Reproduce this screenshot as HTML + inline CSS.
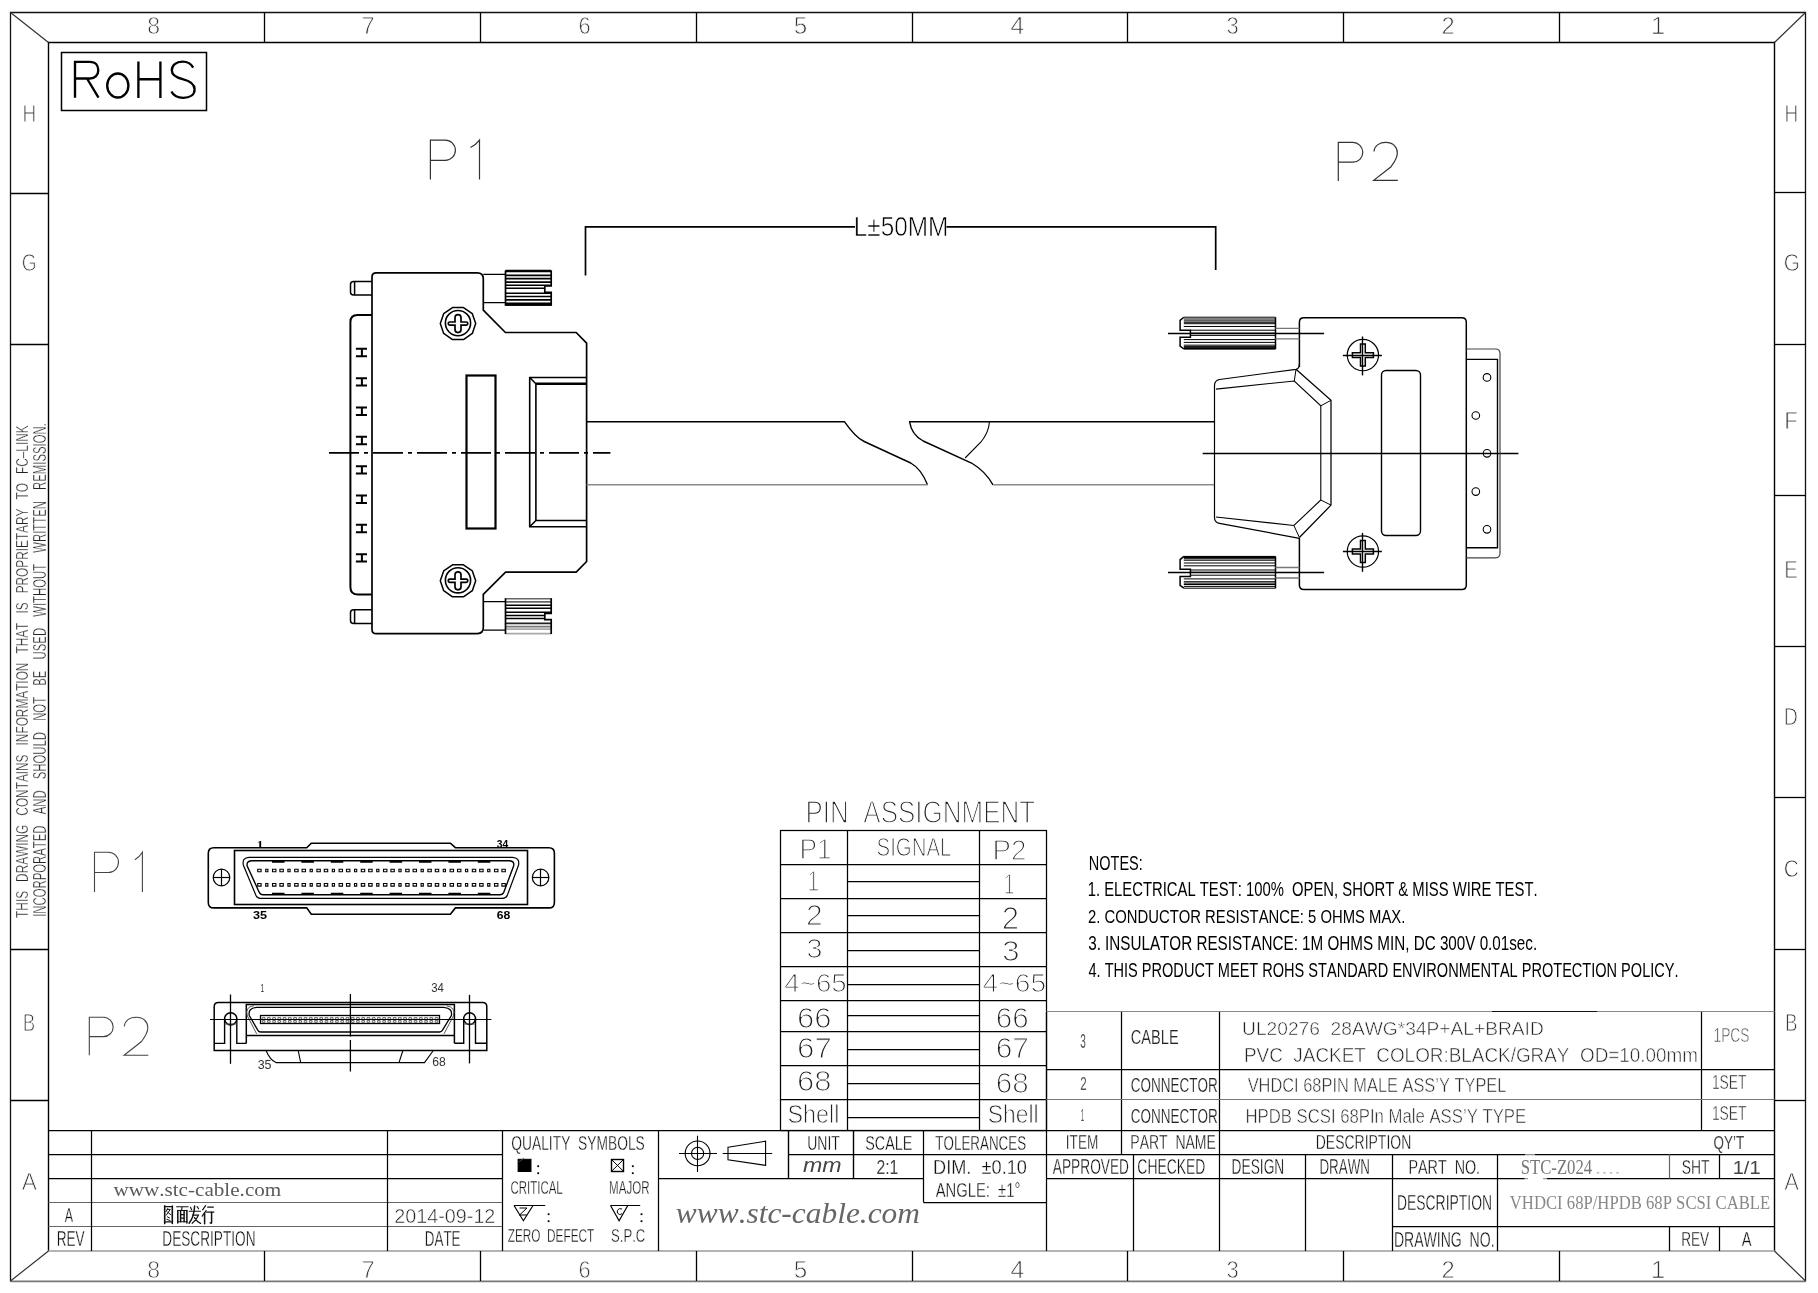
<!DOCTYPE html>
<html><head><meta charset="utf-8"><title>VHDCI 68P/HPDB 68P SCSI CABLE</title>
<style>html,body{margin:0;padding:0;background:#fff;width:1818px;height:1293px;overflow:hidden}svg{display:block;will-change:transform}text{font-kerning:none}</style>
</head><body>
<svg width="1818" height="1293" viewBox="0 0 1818 1293" stroke-linecap="butt">
<rect x="0" y="0" width="1818" height="1293" fill="#fff"/>
<text transform="translate(147.32,33.77) scale(0.9383,1)" font-family="Liberation Sans" font-size="24.57" fill="#333" stroke="#fff" stroke-width="0.75" vector-effect="non-scaling-stroke" xml:space="preserve">8</text>
<text transform="translate(147.32,1277.58) scale(0.9383,1)" font-family="Liberation Sans" font-size="24.57" fill="#333" stroke="#fff" stroke-width="0.75" vector-effect="non-scaling-stroke" xml:space="preserve">8</text>
<text transform="translate(361.51,33.77) scale(0.9773,1)" font-family="Liberation Sans" font-size="24.57" fill="#333" stroke="#fff" stroke-width="0.75" vector-effect="non-scaling-stroke" xml:space="preserve">7</text>
<text transform="translate(361.51,1277.58) scale(0.9773,1)" font-family="Liberation Sans" font-size="24.57" fill="#333" stroke="#fff" stroke-width="0.75" vector-effect="non-scaling-stroke" xml:space="preserve">7</text>
<text transform="translate(578.41,33.77) scale(0.8901,1)" font-family="Liberation Sans" font-size="24.57" fill="#333" stroke="#fff" stroke-width="0.75" vector-effect="non-scaling-stroke" xml:space="preserve">6</text>
<text transform="translate(578.41,1277.58) scale(0.8901,1)" font-family="Liberation Sans" font-size="24.57" fill="#333" stroke="#fff" stroke-width="0.75" vector-effect="non-scaling-stroke" xml:space="preserve">6</text>
<text transform="translate(793.68,33.77) scale(0.9886,1)" font-family="Liberation Sans" font-size="24.57" fill="#333" stroke="#fff" stroke-width="0.75" vector-effect="non-scaling-stroke" xml:space="preserve">5</text>
<text transform="translate(793.68,1277.58) scale(0.9886,1)" font-family="Liberation Sans" font-size="24.57" fill="#333" stroke="#fff" stroke-width="0.75" vector-effect="non-scaling-stroke" xml:space="preserve">5</text>
<text transform="translate(1010.58,33.77) scale(1.0048,1)" font-family="Liberation Sans" font-size="24.57" fill="#333" stroke="#fff" stroke-width="0.75" vector-effect="non-scaling-stroke" xml:space="preserve">4</text>
<text transform="translate(1010.58,1277.58) scale(1.0048,1)" font-family="Liberation Sans" font-size="24.57" fill="#333" stroke="#fff" stroke-width="0.75" vector-effect="non-scaling-stroke" xml:space="preserve">4</text>
<text transform="translate(1226.55,33.77) scale(0.8987,1)" font-family="Liberation Sans" font-size="24.57" fill="#333" stroke="#fff" stroke-width="0.75" vector-effect="non-scaling-stroke" xml:space="preserve">3</text>
<text transform="translate(1226.55,1277.58) scale(0.8987,1)" font-family="Liberation Sans" font-size="24.57" fill="#333" stroke="#fff" stroke-width="0.75" vector-effect="non-scaling-stroke" xml:space="preserve">3</text>
<text transform="translate(1441.4,33.77) scale(0.9675,1)" font-family="Liberation Sans" font-size="24.57" fill="#333" stroke="#fff" stroke-width="0.75" vector-effect="non-scaling-stroke" xml:space="preserve">2</text>
<text transform="translate(1441.4,1277.58) scale(0.9675,1)" font-family="Liberation Sans" font-size="24.57" fill="#333" stroke="#fff" stroke-width="0.75" vector-effect="non-scaling-stroke" xml:space="preserve">2</text>
<text transform="translate(1650.8,33.77) scale(1.0634,1)" font-family="Liberation Sans" font-size="24.57" fill="#333" stroke="#fff" stroke-width="0.75" vector-effect="non-scaling-stroke" xml:space="preserve">1</text>
<text transform="translate(1650.8,1277.58) scale(1.0634,1)" font-family="Liberation Sans" font-size="24.57" fill="#333" stroke="#fff" stroke-width="0.75" vector-effect="non-scaling-stroke" xml:space="preserve">1</text>
<text transform="translate(1784.6,122.27) scale(0.8267,1)" font-family="Liberation Sans" font-size="23.12" fill="#333" stroke="#fff" stroke-width="0.75" vector-effect="non-scaling-stroke" xml:space="preserve">H</text>
<text transform="translate(22.45,122.27) scale(0.8267,1)" font-family="Liberation Sans" font-size="23.12" fill="#333" stroke="#fff" stroke-width="0.75" vector-effect="non-scaling-stroke" xml:space="preserve">H</text>
<text transform="translate(1783.71,270.98) scale(0.8911,1)" font-family="Liberation Sans" font-size="23.12" fill="#333" stroke="#fff" stroke-width="0.75" vector-effect="non-scaling-stroke" xml:space="preserve">G</text>
<text transform="translate(21.64,270.98) scale(0.8225,1)" font-family="Liberation Sans" font-size="23.12" fill="#333" stroke="#fff" stroke-width="0.75" vector-effect="non-scaling-stroke" xml:space="preserve">G</text>
<text transform="translate(1784.25,429.28) scale(0.9649,1)" font-family="Liberation Sans" font-size="23.12" fill="#333" stroke="#fff" stroke-width="0.75" vector-effect="non-scaling-stroke" xml:space="preserve">F</text>
<text transform="translate(1784.31,577.98) scale(0.8837,1)" font-family="Liberation Sans" font-size="23.12" fill="#333" stroke="#fff" stroke-width="0.75" vector-effect="non-scaling-stroke" xml:space="preserve">E</text>
<text transform="translate(1783.66,724.68) scale(0.8447,1)" font-family="Liberation Sans" font-size="23.12" fill="#333" stroke="#fff" stroke-width="0.75" vector-effect="non-scaling-stroke" xml:space="preserve">D</text>
<text transform="translate(1783.82,877.27) scale(0.9035,1)" font-family="Liberation Sans" font-size="23.12" fill="#333" stroke="#fff" stroke-width="0.75" vector-effect="non-scaling-stroke" xml:space="preserve">C</text>
<text transform="translate(1784.96,1030.67) scale(0.8148,1)" font-family="Liberation Sans" font-size="23.12" fill="#333" stroke="#fff" stroke-width="0.75" vector-effect="non-scaling-stroke" xml:space="preserve">B</text>
<text transform="translate(22.8,1030.67) scale(0.8066,1)" font-family="Liberation Sans" font-size="23.12" fill="#333" stroke="#fff" stroke-width="0.75" vector-effect="non-scaling-stroke" xml:space="preserve">B</text>
<text transform="translate(1784.13,1189.97) scale(0.9537,1)" font-family="Liberation Sans" font-size="23.12" fill="#333" stroke="#fff" stroke-width="0.75" vector-effect="non-scaling-stroke" xml:space="preserve">A</text>
<text transform="translate(21.65,1189.97) scale(0.9855,1)" font-family="Liberation Sans" font-size="23.12" fill="#333" stroke="#fff" stroke-width="0.75" vector-effect="non-scaling-stroke" xml:space="preserve">A</text>
<text transform="translate(27.8,917.5) rotate(-90) translate(-0.39,0.15) scale(0.6867,1)" font-family="Liberation Sans" font-size="17.25" fill="#222" stroke="#fff" stroke-width="0.3" vector-effect="non-scaling-stroke" word-spacing="8.4" xml:space="preserve">THIS DRAWING CONTAINS INFORMATION THAT IS PROPRIETARY TO FC–LINK</text>
<text transform="translate(45.6,915.7) rotate(-90) translate(-1.17,0.15) scale(0.6262,1)" font-family="Liberation Sans" font-size="18.12" fill="#222" stroke="#fff" stroke-width="0.3" vector-effect="non-scaling-stroke" word-spacing="12.79" xml:space="preserve">INCORPORATED AND SHOULD NOT BE USED WITHOUT WRITTEN REMISSION.</text>
<text transform="translate(853.74,236.1) scale(0.9086,1)" font-family="Liberation Sans" font-size="26.81" fill="#000" stroke="#fff" stroke-width="0.6" vector-effect="non-scaling-stroke" xml:space="preserve">L±50MM</text>
<text transform="translate(256.76,847.6) scale(1.2135,1)" font-family="Liberation Serif" font-size="10.84" fill="#000" font-weight="bold" xml:space="preserve">1</text>
<text transform="translate(496.86,847.6) scale(1.0038,1)" font-family="Liberation Sans" font-size="10.29" fill="#000" font-weight="bold" xml:space="preserve">34</text>
<text transform="translate(252.93,918.6) scale(1.2146,1)" font-family="Liberation Sans" font-size="10.43" fill="#000" font-weight="bold" xml:space="preserve">35</text>
<text transform="translate(496.71,918.6) scale(1.1680,1)" font-family="Liberation Sans" font-size="10.43" fill="#000" font-weight="bold" xml:space="preserve">68</text>
<text transform="translate(260.51,991.6) scale(0.6482,1)" font-family="Liberation Sans" font-size="10.14" fill="#333" xml:space="preserve">1</text>
<text transform="translate(431.15,991.7) scale(0.9478,1)" font-family="Liberation Sans" font-size="12.03" fill="#333" xml:space="preserve">34</text>
<text transform="translate(257.67,1068.7) scale(1.0483,1)" font-family="Liberation Sans" font-size="11.88" fill="#333" xml:space="preserve">35</text>
<text transform="translate(432.19,1065.6) scale(1.0145,1)" font-family="Liberation Sans" font-size="12.03" fill="#333" xml:space="preserve">68</text>
<text transform="translate(805.47,822.75) scale(0.8471,1)" font-family="Liberation Sans" font-size="30.72" fill="#222" stroke="#fff" stroke-width="1.3" vector-effect="non-scaling-stroke" xml:space="preserve">PIN  ASSIGNMENT</text>
<text transform="translate(799.41,858.85) scale(0.8762,1)" font-family="Liberation Sans" font-size="30.14" fill="#222" stroke="#fff" stroke-width="1.3" vector-effect="non-scaling-stroke" xml:space="preserve">P1</text>
<text transform="translate(876.58,855.5) scale(0.8133,1)" font-family="Liberation Sans" font-size="25.07" fill="#222" stroke="#fff" stroke-width="1.0" vector-effect="non-scaling-stroke" xml:space="preserve">SIGNAL</text>
<text transform="translate(992.53,859.65) scale(0.9219,1)" font-family="Liberation Sans" font-size="30.14" fill="#222" stroke="#fff" stroke-width="1.3" vector-effect="non-scaling-stroke" xml:space="preserve">P2</text>
<text transform="translate(807.5,891.3) scale(0.7030,1)" font-family="Liberation Sans" font-size="30" fill="#222" stroke="#fff" stroke-width="1.2" vector-effect="non-scaling-stroke" xml:space="preserve">1</text>
<text transform="translate(806.1,925.4) scale(1.0142,1)" font-family="Liberation Sans" font-size="29.57" fill="#222" stroke="#fff" stroke-width="1.2" vector-effect="non-scaling-stroke" xml:space="preserve">2</text>
<text transform="translate(806.45,957.52) scale(1.0302,1)" font-family="Liberation Sans" font-size="27.89" fill="#222" stroke="#fff" stroke-width="1.2" vector-effect="non-scaling-stroke" xml:space="preserve">3</text>
<text transform="translate(784.24,991.64) scale(1.0833,1)" font-family="Liberation Sans" font-size="25.63" fill="#222" stroke="#fff" stroke-width="1.2" vector-effect="non-scaling-stroke" xml:space="preserve">4~65</text>
<text transform="translate(797.05,1027.7) scale(1.0237,1)" font-family="Liberation Sans" font-size="30.28" fill="#222" stroke="#fff" stroke-width="1.2" vector-effect="non-scaling-stroke" xml:space="preserve">66</text>
<text transform="translate(797.05,1057.7) scale(1.0327,1)" font-family="Liberation Sans" font-size="30.28" fill="#222" stroke="#fff" stroke-width="1.2" vector-effect="non-scaling-stroke" xml:space="preserve">67</text>
<text transform="translate(797.05,1091.01) scale(1.0632,1)" font-family="Liberation Sans" font-size="29.15" fill="#222" stroke="#fff" stroke-width="1.2" vector-effect="non-scaling-stroke" xml:space="preserve">68</text>
<text transform="translate(787.53,1123.05) scale(0.9322,1)" font-family="Liberation Sans" font-size="25.03" fill="#222" stroke="#fff" stroke-width="0.8" vector-effect="non-scaling-stroke" xml:space="preserve">Shell</text>
<text transform="translate(1003.86,893.7) scale(0.6774,1)" font-family="Liberation Sans" font-size="28.84" fill="#222" stroke="#fff" stroke-width="1.2" vector-effect="non-scaling-stroke" xml:space="preserve">1</text>
<text transform="translate(1001.64,928.6) scale(1.0161,1)" font-family="Liberation Sans" font-size="30.71" fill="#222" stroke="#fff" stroke-width="1.2" vector-effect="non-scaling-stroke" xml:space="preserve">2</text>
<text transform="translate(1001.92,960.81) scale(1.0855,1)" font-family="Liberation Sans" font-size="29.15" fill="#222" stroke="#fff" stroke-width="1.2" vector-effect="non-scaling-stroke" xml:space="preserve">3</text>
<text transform="translate(982.61,991.64) scale(1.1017,1)" font-family="Liberation Sans" font-size="25.63" fill="#222" stroke="#fff" stroke-width="1.2" vector-effect="non-scaling-stroke" xml:space="preserve">4~65</text>
<text transform="translate(995.7,1027.7) scale(0.9786,1)" font-family="Liberation Sans" font-size="30.28" fill="#222" stroke="#fff" stroke-width="1.2" vector-effect="non-scaling-stroke" xml:space="preserve">66</text>
<text transform="translate(995.71,1057.7) scale(0.9872,1)" font-family="Liberation Sans" font-size="30.28" fill="#222" stroke="#fff" stroke-width="1.2" vector-effect="non-scaling-stroke" xml:space="preserve">67</text>
<text transform="translate(995.7,1093.11) scale(1.0365,1)" font-family="Liberation Sans" font-size="28.59" fill="#222" stroke="#fff" stroke-width="1.2" vector-effect="non-scaling-stroke" xml:space="preserve">68</text>
<text transform="translate(987.77,1123.05) scale(0.9128,1)" font-family="Liberation Sans" font-size="25.03" fill="#222" stroke="#fff" stroke-width="0.8" vector-effect="non-scaling-stroke" xml:space="preserve">Shell</text>
<text transform="translate(1088.82,869.8) scale(0.7193,1)" font-family="Liberation Sans" font-size="20.14" fill="#000" xml:space="preserve">NOTES:</text>
<text transform="translate(1087.68,896.1) scale(0.7579,1)" font-family="Liberation Sans" font-size="19.57" fill="#000" xml:space="preserve">1. ELECTRICAL TEST: 100%  OPEN, SHORT &amp; MISS WIRE TEST.</text>
<text transform="translate(1088.05,922.6) scale(0.7759,1)" font-family="Liberation Sans" font-size="19.13" fill="#000" xml:space="preserve">2. CONDUCTOR RESISTANCE: 5 OHMS MAX.</text>
<text transform="translate(1088.19,950) scale(0.7784,1)" font-family="Liberation Sans" font-size="19.57" fill="#000" xml:space="preserve">3. INSULATOR RESISTANCE: 1M OHMS MIN, DC 300V 0.01sec.</text>
<text transform="translate(1088.5,977.3) scale(0.7226,1)" font-family="Liberation Sans" font-size="20.14" fill="#000" xml:space="preserve">4. THIS PRODUCT MEET ROHS STANDARD ENVIRONMENTAL PROTECTION POLICY.</text>
<text transform="translate(1080.3,1047.9) scale(0.5084,1)" font-family="Liberation Sans" font-size="19.71" fill="#555" xml:space="preserve">3</text>
<text transform="translate(1130.76,1044.4) scale(0.7013,1)" font-family="Liberation Sans" font-size="20.87" fill="#222" stroke="#fff" stroke-width="0.2" vector-effect="non-scaling-stroke" xml:space="preserve">CABLE</text>
<text transform="translate(1242.08,1034.98) scale(1.0072,1)" font-family="Liberation Sans" font-size="19.06" fill="#222" stroke="#fff" stroke-width="0.55" vector-effect="non-scaling-stroke" xml:space="preserve">UL20276  28AWG*34P+AL+BRAID</text>
<text transform="translate(1244.01,1062.18) scale(0.9623,1)" font-family="Liberation Sans" font-size="19.64" fill="#222" stroke="#fff" stroke-width="0.55" vector-effect="non-scaling-stroke" xml:space="preserve">PVC  JACKET  COLOR:BLACK/GRAY  OD=10.00mm</text>
<text transform="translate(1713.52,1041.72) scale(0.6577,1)" font-family="Liberation Sans" font-size="20.94" fill="#555" stroke="#fff" stroke-width="0.45" vector-effect="non-scaling-stroke" xml:space="preserve">1PCS</text>
<text transform="translate(1080.13,1089.7) scale(0.6367,1)" font-family="Liberation Sans" font-size="18.26" fill="#555" xml:space="preserve">2</text>
<text transform="translate(1130.82,1091.8) scale(0.6796,1)" font-family="Liberation Sans" font-size="19.86" fill="#222" stroke="#fff" stroke-width="0.2" vector-effect="non-scaling-stroke" xml:space="preserve">CONNECTOR</text>
<text transform="translate(1247.67,1091.95) scale(0.8082,1)" font-family="Liberation Sans" font-size="20.29" fill="#222" stroke="#fff" stroke-width="0.5" vector-effect="non-scaling-stroke" xml:space="preserve">VHDCI 68PIN MALE ASS’Y TYPEL</text>
<text transform="translate(1711.92,1088.92) scale(0.6611,1)" font-family="Liberation Sans" font-size="20.94" fill="#222" stroke="#fff" stroke-width="0.45" vector-effect="non-scaling-stroke" xml:space="preserve">1SET</text>
<text transform="translate(1080.67,1121) scale(0.3661,1)" font-family="Liberation Sans" font-size="16.67" fill="#555" xml:space="preserve">1</text>
<text transform="translate(1130.82,1123.2) scale(0.6747,1)" font-family="Liberation Sans" font-size="20" fill="#222" stroke="#fff" stroke-width="0.2" vector-effect="non-scaling-stroke" xml:space="preserve">CONNECTOR</text>
<text transform="translate(1245.4,1123.35) scale(0.8196,1)" font-family="Liberation Sans" font-size="20.43" fill="#222" stroke="#fff" stroke-width="0.5" vector-effect="non-scaling-stroke" xml:space="preserve">HPDB SCSI 68PIn Male ASS’Y TYPE</text>
<text transform="translate(1711.92,1120.02) scale(0.6611,1)" font-family="Liberation Sans" font-size="20.94" fill="#222" stroke="#fff" stroke-width="0.45" vector-effect="non-scaling-stroke" xml:space="preserve">1SET</text>
<text transform="translate(113.4,1196.32) scale(1.1211,1)" font-family="Liberation Serif" font-size="18.87" fill="#5a5a5a" xml:space="preserve">www.stc-cable.com</text>
<text transform="translate(64.85,1221.75) scale(0.6379,1)" font-family="Liberation Sans" font-size="19.57" fill="#111" stroke="#fff" stroke-width="0.3" vector-effect="non-scaling-stroke" xml:space="preserve">A</text>
<text transform="translate(394.36,1222.65) scale(0.9404,1)" font-family="Liberation Sans" font-size="21.01" fill="#222" stroke="#fff" stroke-width="0.5" vector-effect="non-scaling-stroke" xml:space="preserve">2014-09-12</text>
<text transform="translate(56.76,1245.55) scale(0.6324,1)" font-family="Liberation Sans" font-size="21.45" fill="#111" stroke="#fff" stroke-width="0.3" vector-effect="non-scaling-stroke" xml:space="preserve">REV</text>
<text transform="translate(162.35,1245.55) scale(0.6355,1)" font-family="Liberation Sans" font-size="21.45" fill="#111" stroke="#fff" stroke-width="0.3" vector-effect="non-scaling-stroke" xml:space="preserve">DESCRIPTION</text>
<text transform="translate(424.75,1245.55) scale(0.6261,1)" font-family="Liberation Sans" font-size="21.45" fill="#111" stroke="#fff" stroke-width="0.3" vector-effect="non-scaling-stroke" xml:space="preserve">DATE</text>
<text transform="translate(511.22,1150.25) scale(0.6910,1)" font-family="Liberation Sans" font-size="20" fill="#111" stroke="#fff" stroke-width="0.3" vector-effect="non-scaling-stroke" xml:space="preserve">QUALITY  SYMBOLS</text>
<text transform="translate(510.47,1193.65) scale(0.6230,1)" font-family="Liberation Sans" font-size="18.41" fill="#111" stroke="#fff" stroke-width="0.3" vector-effect="non-scaling-stroke" xml:space="preserve">CRITICAL</text>
<text transform="translate(609.11,1193.65) scale(0.6268,1)" font-family="Liberation Sans" font-size="18.41" fill="#111" stroke="#fff" stroke-width="0.3" vector-effect="non-scaling-stroke" xml:space="preserve">MAJOR</text>
<text transform="translate(507.69,1241.95) scale(0.6371,1)" font-family="Liberation Sans" font-size="18.55" fill="#111" stroke="#fff" stroke-width="0.3" vector-effect="non-scaling-stroke" xml:space="preserve">ZERO  DEFECT</text>
<text transform="translate(611.06,1241.95) scale(0.7052,1)" font-family="Liberation Sans" font-size="18.55" fill="#111" stroke="#fff" stroke-width="0.3" vector-effect="non-scaling-stroke" xml:space="preserve">S.P.C</text>
<text transform="translate(807.2,1149.55) scale(0.6956,1)" font-family="Liberation Sans" font-size="20.14" fill="#111" stroke="#fff" stroke-width="0.3" vector-effect="non-scaling-stroke" xml:space="preserve">UNIT</text>
<text transform="translate(865.17,1149.55) scale(0.7151,1)" font-family="Liberation Sans" font-size="20.14" fill="#111" stroke="#fff" stroke-width="0.3" vector-effect="non-scaling-stroke" xml:space="preserve">SCALE</text>
<text transform="translate(935.37,1149.55) scale(0.6653,1)" font-family="Liberation Sans" font-size="20.14" fill="#111" stroke="#fff" stroke-width="0.3" vector-effect="non-scaling-stroke" xml:space="preserve">TOLERANCES</text>
<text transform="translate(803.03,1172.4) scale(1.1087,1)" font-family="Liberation Sans" font-size="20.93" fill="#444" font-style="italic" xml:space="preserve">mm</text>
<text transform="translate(876.38,1173.5) scale(0.8073,1)" font-family="Liberation Sans" font-size="19.57" fill="#444" xml:space="preserve">2:1</text>
<text transform="translate(932.99,1173.65) scale(0.9109,1)" font-family="Liberation Sans" font-size="20" fill="#111" stroke="#fff" stroke-width="0.3" vector-effect="non-scaling-stroke" xml:space="preserve">DIM.  ±0.10</text>
<text transform="translate(935.64,1196.85) scale(0.7042,1)" font-family="Liberation Sans" font-size="21.01" fill="#111" stroke="#fff" stroke-width="0.3" vector-effect="non-scaling-stroke" xml:space="preserve">ANGLE:  ±1°</text>
<text transform="translate(675.82,1223.16) scale(1.0722,1)" font-family="Liberation Serif" font-size="29.3" fill="#666" font-style="italic" xml:space="preserve">www.stc-cable.com</text>
<text transform="translate(1065.81,1148.55) scale(0.6849,1)" font-family="Liberation Sans" font-size="19.86" fill="#111" stroke="#fff" stroke-width="0.3" vector-effect="non-scaling-stroke" xml:space="preserve">ITEM</text>
<text transform="translate(1130.32,1148.55) scale(0.7053,1)" font-family="Liberation Sans" font-size="19.86" fill="#111" stroke="#fff" stroke-width="0.3" vector-effect="non-scaling-stroke" xml:space="preserve">PART  NAME</text>
<text transform="translate(1315.73,1148.55) scale(0.7045,1)" font-family="Liberation Sans" font-size="19.86" fill="#111" stroke="#fff" stroke-width="0.3" vector-effect="non-scaling-stroke" xml:space="preserve">DESCRIPTION</text>
<text transform="translate(1713.57,1148.5) scale(0.7591,1)" font-family="Liberation Sans" font-size="17.68" fill="#444" xml:space="preserve">QY’T</text>
<text transform="translate(1052.85,1174.25) scale(0.6346,1)" font-family="Liberation Sans" font-size="21.59" fill="#111" stroke="#fff" stroke-width="0.3" vector-effect="non-scaling-stroke" xml:space="preserve">APPROVED</text>
<text transform="translate(1137.34,1174.25) scale(0.6443,1)" font-family="Liberation Sans" font-size="21.59" fill="#111" stroke="#fff" stroke-width="0.3" vector-effect="non-scaling-stroke" xml:space="preserve">CHECKED</text>
<text transform="translate(1231.54,1174.25) scale(0.6374,1)" font-family="Liberation Sans" font-size="21.59" fill="#111" stroke="#fff" stroke-width="0.3" vector-effect="non-scaling-stroke" xml:space="preserve">DESIGN</text>
<text transform="translate(1319.38,1174.25) scale(0.6200,1)" font-family="Liberation Sans" font-size="21.59" fill="#111" stroke="#fff" stroke-width="0.3" vector-effect="non-scaling-stroke" xml:space="preserve">DRAWN</text>
<text transform="translate(1408.49,1174.15) scale(0.7064,1)" font-family="Liberation Sans" font-size="20.29" fill="#111" stroke="#fff" stroke-width="0.3" vector-effect="non-scaling-stroke" xml:space="preserve">PART  NO.</text>
<text transform="translate(1520.7,1174) scale(0.7994,1)" font-family="Liberation Serif" font-size="20.92" fill="#777" xml:space="preserve">STC-Z024</text>
<text transform="translate(1681.82,1174.15) scale(0.6857,1)" font-family="Liberation Sans" font-size="20.29" fill="#111" stroke="#fff" stroke-width="0.3" vector-effect="non-scaling-stroke" xml:space="preserve">SHT</text>
<text transform="translate(1732.7,1173.81) scale(1.0732,1)" font-family="Liberation Sans" font-size="18.64" fill="#444" xml:space="preserve">1/1</text>
<text transform="translate(1396.93,1209.95) scale(0.6451,1)" font-family="Liberation Sans" font-size="21.59" fill="#111" stroke="#fff" stroke-width="0.3" vector-effect="non-scaling-stroke" xml:space="preserve">DESCRIPTION</text>
<text transform="translate(1509.83,1208.6) scale(0.8747,1)" font-family="Liberation Serif" font-size="19.08" fill="#888" xml:space="preserve">VHDCI 68P/HPDB 68P SCSI CABLE</text>
<text transform="translate(1393.92,1247.15) scale(0.6377,1)" font-family="Liberation Sans" font-size="22.03" fill="#111" stroke="#fff" stroke-width="0.3" vector-effect="non-scaling-stroke" xml:space="preserve">DRAWING  NO.</text>
<text transform="translate(1681.13,1246.15) scale(0.6641,1)" font-family="Liberation Sans" font-size="20.58" fill="#111" stroke="#fff" stroke-width="0.3" vector-effect="non-scaling-stroke" xml:space="preserve">REV</text>
<text transform="translate(1741.85,1246.15) scale(0.7135,1)" font-family="Liberation Sans" font-size="20.58" fill="#111" stroke="#fff" stroke-width="0.3" vector-effect="non-scaling-stroke" xml:space="preserve">A</text>
<path d="M10.5,1281.5 V12.5 H1805.5 V1281.5" stroke="#111" stroke-width="1.3" fill="none" />
<path d="M48.5,1251 V42.5 H1774.5 V1251" stroke="#000" stroke-width="1.4" fill="none" />
<line x1="10.5" y1="1281.4" x2="1805.5" y2="1281.4" stroke="#777" stroke-width="1.6"/>
<line x1="48.5" y1="1251" x2="1774.5" y2="1251" stroke="#b4b4b4" stroke-width="2"/>
<line x1="10.5" y1="12.5" x2="48.5" y2="42.5" stroke="#333" stroke-width="1.2" />
<line x1="1805.5" y1="12.5" x2="1774.5" y2="42.5" stroke="#333" stroke-width="1.2" />
<line x1="10.5" y1="1281" x2="48.5" y2="1251" stroke="#333" stroke-width="1.2" />
<line x1="1805.5" y1="1281" x2="1774.5" y2="1251" stroke="#333" stroke-width="1.2" />
<line x1="264.5" y1="12.5" x2="264.5" y2="42.5" stroke="#000" stroke-width="1.3" />
<line x1="264.5" y1="1251" x2="264.5" y2="1281" stroke="#000" stroke-width="1.3" />
<line x1="480.5" y1="12.5" x2="480.5" y2="42.5" stroke="#000" stroke-width="1.3" />
<line x1="480.5" y1="1251" x2="480.5" y2="1281" stroke="#000" stroke-width="1.3" />
<line x1="696.5" y1="12.5" x2="696.5" y2="42.5" stroke="#000" stroke-width="1.3" />
<line x1="696.5" y1="1251" x2="696.5" y2="1281" stroke="#000" stroke-width="1.3" />
<line x1="912.5" y1="12.5" x2="912.5" y2="42.5" stroke="#000" stroke-width="1.3" />
<line x1="912.5" y1="1251" x2="912.5" y2="1281" stroke="#000" stroke-width="1.3" />
<line x1="1127.5" y1="12.5" x2="1127.5" y2="42.5" stroke="#000" stroke-width="1.3" />
<line x1="1127.5" y1="1251" x2="1127.5" y2="1281" stroke="#000" stroke-width="1.3" />
<line x1="1343.5" y1="12.5" x2="1343.5" y2="42.5" stroke="#000" stroke-width="1.3" />
<line x1="1343.5" y1="1251" x2="1343.5" y2="1281" stroke="#000" stroke-width="1.3" />
<line x1="1559.5" y1="12.5" x2="1559.5" y2="42.5" stroke="#000" stroke-width="1.3" />
<line x1="1559.5" y1="1251" x2="1559.5" y2="1281" stroke="#000" stroke-width="1.3" />
<line x1="10.5" y1="193.5" x2="48.5" y2="193.5" stroke="#000" stroke-width="1.3" />
<line x1="10.5" y1="344.5" x2="48.5" y2="344.5" stroke="#000" stroke-width="1.3" />
<line x1="10.5" y1="949.5" x2="48.5" y2="949.5" stroke="#000" stroke-width="1.3" />
<line x1="10.5" y1="1100.5" x2="48.5" y2="1100.5" stroke="#000" stroke-width="1.3" />
<line x1="1774.5" y1="192.5" x2="1805.5" y2="192.5" stroke="#000" stroke-width="1.3" />
<line x1="1774.5" y1="344.5" x2="1805.5" y2="344.5" stroke="#000" stroke-width="1.3" />
<line x1="1774.5" y1="495.5" x2="1805.5" y2="495.5" stroke="#000" stroke-width="1.3" />
<line x1="1774.5" y1="646.5" x2="1805.5" y2="646.5" stroke="#000" stroke-width="1.3" />
<line x1="1774.5" y1="797.5" x2="1805.5" y2="797.5" stroke="#000" stroke-width="1.3" />
<line x1="1774.5" y1="949.5" x2="1805.5" y2="949.5" stroke="#000" stroke-width="1.3" />
<line x1="1774.5" y1="1100.5" x2="1805.5" y2="1100.5" stroke="#000" stroke-width="1.3" />
<rect x="61.5" y="52.5" width="145" height="58" stroke="#000" stroke-width="1.5" fill="none" />
<path d="M75,97.7 V61.8 H90 C95.5,61.8 98.3,65.5 98.3,70.2 C98.3,75 95,78.5 90,78.5 H75 M87,78.5 L98.5,97.7" stroke="#000" stroke-width="2.35" fill="none" />
<ellipse cx="117.8" cy="85.5" rx="10.6" ry="12" stroke="#000" stroke-width="2.35" fill="none"/>
<path d="M138.4,61.4 V97.9 M160.4,61.4 V97.9 M138.4,79.2 H160.4" stroke="#000" stroke-width="2.35" fill="none" />
<path d="M193.2,67.6 C191,63.5 187,61.6 182.6,61.6 C176,61.6 171.8,65.2 171.8,70.3 C171.8,75.6 176.2,77.6 182.6,79.2 C189.5,80.9 194.6,83.5 194.6,89.4 C194.6,94.8 189.8,97.8 183.2,97.8 C177.2,97.8 173.3,95.2 171.4,91.5" stroke="#000" stroke-width="2.35" fill="none" />
<path d="M430.4,179.4 V140.1 H445.3 A10.1,10.1 0 0 1 445.3,160.3 H430.4" stroke="#333" stroke-width="1.2" fill="none" />
<path d="M479.5,179.4 V140.1 Q475.9,144.82 470.5,147.57" stroke="#333" stroke-width="1.2" fill="none" />
<path d="M1338.3,181.1 V142.4 H1352.9 A9.9,9.9 0 0 1 1352.9,162.2 H1338.3" stroke="#333" stroke-width="1.2" fill="none" />
<path d="M1373.94,151.52 C1374.66,145.44 1379.72,142.4 1385.75,142.4 C1392.98,142.4 1397.32,146.96 1397.32,153.04 C1397.32,158.36 1394.43,162.16 1391.05,166.72 L1373.7,180.4 H1397.8" stroke="#333" stroke-width="1.2" fill="none" />
<path d="M94.5,892 V852.2 H108.35 A10.15,10.15 0 0 1 108.35,872.5 H94.5" stroke="#444" stroke-width="1.1" fill="none" />
<path d="M142.4,892 V852.2 Q139.4,856.98 134.9,859.76" stroke="#444" stroke-width="1.1" fill="none" />
<path d="M89.3,1055.2 V1017.2 H103.5 A9.7,9.7 0 0 1 103.5,1036.6 H89.3" stroke="#444" stroke-width="1.1" fill="none" />
<path d="M124.34,1026.32 C125.07,1020.24 130.15,1017.2 136.2,1017.2 C143.46,1017.2 147.82,1021.76 147.82,1027.84 C147.82,1033.16 144.91,1036.96 141.52,1041.52 L124.1,1055.2 H148.3" stroke="#444" stroke-width="1.1" fill="none" />
<path d="M585.5,275.5 V226.8 H855" stroke="#000" stroke-width="1.7" fill="none" />
<path d="M946.5,226.8 H1215.7 V270" stroke="#000" stroke-width="1.7" fill="none" />
<path d="M372,277 Q372,272.8 376.2,272.8 H477.3 Q483.3,272.8 483.3,278.8 V310.2 L505.4,332.5 H576.2 L586.6,343.1 V561.5 L576.2,572.1 H505.6 L483.3,594.4 V627.6 Q483.3,633.6 477.3,633.6 H376.2 Q372,633.6 372,629.4 Z" stroke="#000" stroke-width="1.7" fill="none" />
<path d="M372,281.6 H353.6 Q350.5,281.6 350.5,284.6 V291.9 Q350.5,294.9 353.6,294.9 H372 M354.6,282.1 V294.4" stroke="#000" stroke-width="1.5" fill="none" />
<path d="M372,609.8 H353.6 Q350.5,609.8 350.5,612.8 V620.4 Q350.5,623.4 353.6,623.4 H372 M354.6,610.3 V622.9" stroke="#000" stroke-width="1.5" fill="none" />
<path d="M372,315.1 H357.5 Q350.4,315.1 350.4,322.1 V587 Q350.4,594.6 358,594.6 H372" stroke="#000" stroke-width="2.0" fill="none" />
<path d="M355.9,348.8 H367 M355.9,356.2 H367 M361.9,348.8 V356.2" stroke="#000" stroke-width="2.0" fill="none" />
<path d="M355.9,378.14 H367 M355.9,385.54 H367 M361.9,378.14 V385.54" stroke="#000" stroke-width="2.0" fill="none" />
<path d="M355.9,407.48 H367 M355.9,414.88 H367 M361.9,407.48 V414.88" stroke="#000" stroke-width="2.0" fill="none" />
<path d="M355.9,436.82 H367 M355.9,444.22 H367 M361.9,436.82 V444.22" stroke="#000" stroke-width="2.0" fill="none" />
<path d="M355.9,466.16 H367 M355.9,473.56 H367 M361.9,466.16 V473.56" stroke="#000" stroke-width="2.0" fill="none" />
<path d="M355.9,495.5 H367 M355.9,502.9 H367 M361.9,495.5 V502.9" stroke="#000" stroke-width="2.0" fill="none" />
<path d="M355.9,524.84 H367 M355.9,532.24 H367 M361.9,524.84 V532.24" stroke="#000" stroke-width="2.0" fill="none" />
<path d="M355.9,554.18 H367 M355.9,561.58 H367 M361.9,554.18 V561.58" stroke="#000" stroke-width="2.0" fill="none" />
<polygon points="475.7,323.6 472.32,333.47 463.47,339.58 452.53,339.58 443.68,333.47 440.3,323.6 443.68,313.73 452.53,307.62 463.47,307.62 472.32,313.73" stroke="#000" stroke-width="1.5" fill="none" stroke-linejoin="round"/>
<circle cx="458" cy="323.1" r="12.6" stroke="#000" stroke-width="1.6" fill="none"/>
<path d="M455,317.6 A3,3 0 0 1 461,317.6 V322 H466.2 A1.6,1.6 0 0 1 466.2,325.2 H461 V329.6 A3,3 0 0 1 455,329.6 V325.2 H449.8 A1.6,1.6 0 0 1 449.8,322 H455 Z" stroke="#000" stroke-width="1.7" fill="none" />
<polygon points="475.7,580.8 472.32,590.67 463.47,596.78 452.53,596.78 443.68,590.67 440.3,580.8 443.68,570.93 452.53,564.82 463.47,564.82 472.32,570.93" stroke="#000" stroke-width="1.5" fill="none" stroke-linejoin="round"/>
<circle cx="458" cy="580.3" r="12.6" stroke="#000" stroke-width="1.6" fill="none"/>
<path d="M455,574.8 A3,3 0 0 1 461,574.8 V579.2 H466.2 A1.6,1.6 0 0 1 466.2,582.4 H461 V586.8 A3,3 0 0 1 455,586.8 V582.4 H449.8 A1.6,1.6 0 0 1 449.8,579.2 H455 Z" stroke="#000" stroke-width="1.7" fill="none" />
<path d="M505.5,271.2 H551.2" stroke="#000" stroke-width="1.6" fill="none" />
<path d="M505.5,275.4 H551.2" stroke="#000" stroke-width="1.6" fill="none" />
<path d="M505.5,278.6 H551.2" stroke="#000" stroke-width="1.6" fill="none" />
<path d="M505.5,282.1 H551.2" stroke="#000" stroke-width="1.6" fill="none" />
<path d="M505.5,285.2 H551.2" stroke="#000" stroke-width="1.6" fill="none" />
<path d="M505.5,288.3 H544.5" stroke="#000" stroke-width="1.6" fill="none" />
<path d="M505.5,293.3 H551.2" stroke="#000" stroke-width="1.6" fill="none" />
<path d="M505.5,296.5 H551.2" stroke="#000" stroke-width="1.6" fill="none" />
<path d="M505.5,299.9 H551.2" stroke="#000" stroke-width="1.6" fill="none" />
<path d="M505.5,303.2 H551.2" stroke="#000" stroke-width="1.6" fill="none" />
<path d="M505.5,305 H551.2" stroke="#000" stroke-width="1.6" fill="none" />
<path d="M505.5,270.6 V305.7" stroke="#000" stroke-width="1.7" fill="none" />
<path d="M551.2,270.6 V285.9 H544.8 V292.3 H551.2 V305.7" stroke="#000" stroke-width="1.7" fill="none" />
<path d="M505.5,271 H551.2 M505.5,304.6 H551.2" stroke="#000" stroke-width="2.4" fill="none" />
<path d="M505.5,598.7 H551.2" stroke="#666" stroke-width="1.6" fill="none" />
<path d="M505.5,601.9 H551.2" stroke="#666" stroke-width="1.6" fill="none" />
<path d="M505.5,605.3 H551.2" stroke="#000" stroke-width="1.6" fill="none" />
<path d="M505.5,608.3 H551.2" stroke="#000" stroke-width="1.6" fill="none" />
<path d="M505.5,612.3 H551.2" stroke="#000" stroke-width="1.6" fill="none" />
<path d="M505.5,615.5 H544.5" stroke="#000" stroke-width="1.6" fill="none" />
<path d="M505.5,618.5 H544.5" stroke="#000" stroke-width="1.6" fill="none" />
<path d="M505.5,623.4 H551.2" stroke="#222" stroke-width="1.6" fill="none" />
<path d="M505.5,626.6 H551.2" stroke="#777" stroke-width="1.6" fill="none" />
<path d="M505.5,629.1 H551.2" stroke="#aaa" stroke-width="1.6" fill="none" />
<path d="M505.5,633.6 H551.2" stroke="#aaa" stroke-width="1.6" fill="none" />
<path d="M505.5,598.2 V634" stroke="#000" stroke-width="1.7" fill="none" />
<path d="M551.2,598.2 V613.3 H544.8 V619.7 H551.2 V634" stroke="#000" stroke-width="1.7" fill="none" />
<path d="M483.3,274.3 H505.5 M483.3,302.6 H505.5 M483.3,601.7 H505.5 M483.3,630.2 H505.5" stroke="#000" stroke-width="1.3" fill="none" />
<rect x="466.5" y="375.5" width="29" height="153" stroke="#000" stroke-width="2.2" fill="none" />
<path d="M586.6,377.5 H529.7 V526.7 H586.6 M529.7,377.5 L535.9,383.7 M529.7,526.7 L535.9,520.5 M535.9,383.7 V520.5 H586.6" stroke="#000" stroke-width="1.6" fill="none" />
<path d="M535.9,383.7 H586.6" stroke="#000" stroke-width="2.4" fill="none" />
<line x1="329" y1="452.8" x2="610.4" y2="452.8" stroke="#000" stroke-width="1.8" stroke-dasharray="30,5,4,5"/>
<path d="M586.6,421.8 H844.6 C851,431 857,438 864.2,441.5 L910.7,463 C918,467 924,476 927.5,484.8" stroke="#000" stroke-width="1.4" fill="none" />
<path d="M1214.5,421.8 H909.6 C911,431 916,437 923.2,441 L971.5,463 C980,468 988,476 993,484.8" stroke="#000" stroke-width="1.4" fill="none" />
<path d="M989.4,421.8 C989,431 985,437 981,442 L965.1,458" stroke="#000" stroke-width="1.1" fill="none" />
<path d="M586.6,484.8 H927.5 M993,484.8 H1214.5" stroke="#8a8a8a" stroke-width="1.5" fill="none" />
<path d="M1299.4,367 V322.2 Q1299.4,317.7 1303.9,317.7 H1461.8 Q1466.3,317.7 1466.3,322.2 V585.1 Q1466.3,589.6 1461.8,589.6 H1303.9 Q1299.4,589.6 1299.4,585.1 V538" stroke="#000" stroke-width="1.5" fill="none" />
<path d="M1299.4,364 Q1299.4,368.5 1296,369.3 L1219.5,379.5 Q1214.5,380.5 1214.5,385.5 V517.5 Q1214.5,522.5 1219.5,523.4 L1299.4,538.3" stroke="#000" stroke-width="1.2" fill="none" />
<path d="M1296,369.3 L1331,400.3 V505.1 L1299.4,537.5" stroke="#000" stroke-width="1.25" fill="none" />
<path d="M1216,389.1 L1294.3,381 L1320.8,405.8 V500 L1293.9,525.5 L1216,517" stroke="#000" stroke-width="1.1" fill="none" />
<path d="M1294.3,381 L1296,369.3 M1320.8,405.8 L1331,400.3 M1320.8,500 L1331,505.1 M1293.9,525.5 L1299.4,537.5" stroke="#000" stroke-width="1.0" fill="none" />
<line x1="1202.7" y1="453.5" x2="1518.4" y2="453.5" stroke="#000" stroke-width="1.3" />
<circle cx="1362.9" cy="355.1" r="15.65" stroke="#000" stroke-width="1.2" fill="none"/>
<line x1="1342.9" y1="355.5" x2="1381.9" y2="355.5" stroke="#000" stroke-width="1.4" />
<line x1="1362.5" y1="336.5" x2="1362.5" y2="375.4" stroke="#000" stroke-width="1.4" />
<path d="M1360.5,344.1 H1365.3 V352.7 H1373.4 V357.5 H1365.3 V366.1 H1360.5 V357.5 H1352.4 V352.7 H1360.5 Z" stroke="#000" stroke-width="1.5" fill="none" />
<circle cx="1362.9" cy="551.5" r="15.65" stroke="#000" stroke-width="1.2" fill="none"/>
<line x1="1342.9" y1="551.5" x2="1381.9" y2="551.5" stroke="#000" stroke-width="1.4" />
<line x1="1362.5" y1="532.9" x2="1362.5" y2="571.8" stroke="#000" stroke-width="1.4" />
<path d="M1360.5,540.5 H1365.3 V549.1 H1373.4 V553.9 H1365.3 V562.5 H1360.5 V553.9 H1352.4 V549.1 H1360.5 Z" stroke="#000" stroke-width="1.5" fill="none" />
<rect x="1381.5" y="370.5" width="39" height="165" rx="4.5" stroke="#000" stroke-width="1.4" fill="none" />
<path d="M1466.3,349 H1495.5 Q1500,349 1500,353.5 V553.3 Q1500,557.8 1495.5,557.8 H1466.3" stroke="#444" stroke-width="1.2" fill="none" />
<path d="M1466.3,359.4 H1497.5 V547.7 H1466.3" stroke="#000" stroke-width="1.4" fill="none" />
<circle cx="1487" cy="377.4" r="3.8" stroke="#000" stroke-width="1.1" fill="none"/>
<circle cx="1475.8" cy="415.5" r="3.8" stroke="#000" stroke-width="1.1" fill="none"/>
<circle cx="1487" cy="453.3" r="3.8" stroke="#000" stroke-width="1.1" fill="none"/>
<circle cx="1475.8" cy="491.6" r="3.8" stroke="#000" stroke-width="1.1" fill="none"/>
<circle cx="1487" cy="529.3" r="3.8" stroke="#000" stroke-width="1.1" fill="none"/>
<path d="M1183.8,317.2 H1275.5 M1183.8,319.01 H1275.5 M1183.8,320.89 H1275.5 M1183.8,322.29 H1275.5 M1183.8,323.69 H1275.5 M1183.8,326.49 H1275.5 M1190.4,330.21 H1275.5 M1190.4,333.1 H1275.5 M1190.4,335.39 H1275.5 M1183.8,339.59 H1275.5 M1183.8,342.39 H1275.5 M1183.8,345.18 H1275.5 M1183.8,346.62 H1275.5 M1183.8,348.01 H1275.5 M1183.8,349 H1275.5 " stroke="#000" stroke-width="1.0" fill="none" />
<path d="M1183.8,348.2 H1275.5" stroke="#000" stroke-width="2.0" fill="none" />
<path d="M1183.8,317.2 L1180.1,320.4 V330.2 H1190.4 V337.3 H1180.1 V346.1 L1183.8,349 M1275.5,317.2 V349" stroke="#000" stroke-width="1.5" fill="none" />
<line x1="1168" y1="333.5" x2="1324.1" y2="333.5" stroke="#000" stroke-width="1.3" />
<path d="M1275.5,328.4 H1299.4 M1275.5,338.9 H1299.4" stroke="#777" stroke-width="1.3" fill="none" />
<path d="M1183.8,588.2 H1275.5 M1183.8,586.39 H1275.5 M1183.8,584.51 H1275.5 M1183.8,583.11 H1275.5 M1183.8,581.71 H1275.5 M1183.8,578.91 H1275.5 M1190.4,575.19 H1275.5 M1190.4,572.3 H1275.5 M1190.4,570.01 H1275.5 M1183.8,565.81 H1275.5 M1183.8,563.01 H1275.5 M1183.8,560.22 H1275.5 M1183.8,558.78 H1275.5 M1183.8,557.39 H1275.5 M1183.8,556.4 H1275.5 " stroke="#000" stroke-width="1.0" fill="none" />
<path d="M1183.8,557.2 H1275.5" stroke="#000" stroke-width="2.0" fill="none" />
<path d="M1183.8,556.4 L1180.1,559.6 V569.3 H1190.4 V576.4 H1180.1 V585.3 L1183.8,588.2 M1275.5,556.4 V588.2" stroke="#000" stroke-width="1.5" fill="none" />
<line x1="1168" y1="572.5" x2="1324.1" y2="572.5" stroke="#000" stroke-width="1.3" />
<path d="M1275.5,567.5 H1299.4 M1275.5,578 H1299.4" stroke="#777" stroke-width="1.3" fill="none" />
<path d="M213.8,847.7 H306.7 L311.3,843.2 H450.4 L455.4,847.7 H548.9 Q554.4,847.7 554.4,853.2 V902.4 Q554.4,907.9 548.9,907.9 H455.4 L450.4,914.2 H311.3 L306.7,907.9 H213.8 Q208.3,907.9 208.3,902.4 V853.2 Q208.3,847.7 213.8,847.7 Z" stroke="#000" stroke-width="1.6" fill="none" />
<rect x="234.5" y="850.5" width="293" height="54" stroke="#000" stroke-width="1.6" fill="none" />
<circle cx="221.5" cy="877.5" r="8.3" stroke="#000" stroke-width="1.2" fill="none"/>
<line x1="213.2" y1="877.5" x2="229.8" y2="877.5" stroke="#000" stroke-width="1.2" />
<line x1="221.5" y1="869.2" x2="221.5" y2="885.8" stroke="#000" stroke-width="1.2" />
<circle cx="540.6" cy="877.5" r="8.3" stroke="#000" stroke-width="1.2" fill="none"/>
<line x1="532.3" y1="877.5" x2="548.9" y2="877.5" stroke="#000" stroke-width="1.2" />
<line x1="540.5" y1="869.2" x2="540.5" y2="885.8" stroke="#000" stroke-width="1.2" />
<path d="M249,857.3 H512.5 Q519.8,857.6 518.6,865 L507.2,895.6 Q506,898.4 502.6,898.4 H260.2 Q257.3,898.4 256,895.6 L243.3,865 Q242,857.6 249,857.3 Z" stroke="#000" stroke-width="1.2" fill="none" />
<path d="M251.5,860.8 H509.5 Q514.8,861.2 513.6,866 L503.8,892.2 Q502.8,894.7 499.8,894.7 H263 Q260.3,894.7 259.2,892.2 L247.2,866 Q246.2,861.2 251.5,860.8 Z" stroke="#000" stroke-width="1.4" fill="none" />
<path d="M272,861.6 H284.5 M272,893.8 H284.5 M301.4,861.6 H313.9 M301.4,893.8 H313.9 M330.8,861.6 H343.3 M330.8,893.8 H343.3 M360.2,861.6 H372.7 M360.2,893.8 H372.7 M389.6,861.6 H402.1 M389.6,893.8 H402.1 M419,861.6 H431.5 M419,893.8 H431.5 M448.4,861.6 H460.9 M448.4,893.8 H460.9 M477.8,861.6 H490.3 M477.8,893.8 H490.3 " stroke="#000" stroke-width="2.2" fill="none" />
<path d="M257.7,869.2 h3.4 v2.6 h-3.4 Z M265.7,869.2 h2.2 v2.6 h-2.2 Z M272.5,869.2 h3.4 v2.6 h-3.4 Z M279.9,869.2 h3.4 v2.6 h-3.4 Z M287.9,869.2 h2.2 v2.6 h-2.2 Z M294.7,869.2 h3.4 v2.6 h-3.4 Z M302.1,869.2 h3.4 v2.6 h-3.4 Z M310.1,869.2 h2.2 v2.6 h-2.2 Z M316.9,869.2 h3.4 v2.6 h-3.4 Z M324.3,869.2 h3.4 v2.6 h-3.4 Z M332.3,869.2 h2.2 v2.6 h-2.2 Z M339.1,869.2 h3.4 v2.6 h-3.4 Z M346.5,869.2 h3.4 v2.6 h-3.4 Z M354.5,869.2 h2.2 v2.6 h-2.2 Z M361.3,869.2 h3.4 v2.6 h-3.4 Z M368.7,869.2 h3.4 v2.6 h-3.4 Z M376.7,869.2 h2.2 v2.6 h-2.2 Z M383.5,869.2 h3.4 v2.6 h-3.4 Z M390.9,869.2 h3.4 v2.6 h-3.4 Z M398.9,869.2 h2.2 v2.6 h-2.2 Z M405.7,869.2 h3.4 v2.6 h-3.4 Z M413.1,869.2 h3.4 v2.6 h-3.4 Z M421.1,869.2 h2.2 v2.6 h-2.2 Z M427.9,869.2 h3.4 v2.6 h-3.4 Z M435.3,869.2 h3.4 v2.6 h-3.4 Z M443.3,869.2 h2.2 v2.6 h-2.2 Z M450.1,869.2 h3.4 v2.6 h-3.4 Z M457.5,869.2 h3.4 v2.6 h-3.4 Z M465.5,869.2 h2.2 v2.6 h-2.2 Z M472.3,869.2 h3.4 v2.6 h-3.4 Z M479.7,869.2 h3.4 v2.6 h-3.4 Z M487.7,869.2 h2.2 v2.6 h-2.2 Z M494.5,869.2 h3.4 v2.6 h-3.4 Z M501.9,869.2 h3.4 v2.6 h-3.4 Z M257.7,883.5 h3.4 v2.6 h-3.4 Z M265.7,883.5 h2.2 v2.6 h-2.2 Z M272.5,883.5 h3.4 v2.6 h-3.4 Z M279.9,883.5 h3.4 v2.6 h-3.4 Z M287.9,883.5 h2.2 v2.6 h-2.2 Z M294.7,883.5 h3.4 v2.6 h-3.4 Z M302.1,883.5 h3.4 v2.6 h-3.4 Z M310.1,883.5 h2.2 v2.6 h-2.2 Z M316.9,883.5 h3.4 v2.6 h-3.4 Z M324.3,883.5 h3.4 v2.6 h-3.4 Z M332.3,883.5 h2.2 v2.6 h-2.2 Z M339.1,883.5 h3.4 v2.6 h-3.4 Z M346.5,883.5 h3.4 v2.6 h-3.4 Z M354.5,883.5 h2.2 v2.6 h-2.2 Z M361.3,883.5 h3.4 v2.6 h-3.4 Z M368.7,883.5 h3.4 v2.6 h-3.4 Z M376.7,883.5 h2.2 v2.6 h-2.2 Z M383.5,883.5 h3.4 v2.6 h-3.4 Z M390.9,883.5 h3.4 v2.6 h-3.4 Z M398.9,883.5 h2.2 v2.6 h-2.2 Z M405.7,883.5 h3.4 v2.6 h-3.4 Z M413.1,883.5 h3.4 v2.6 h-3.4 Z M421.1,883.5 h2.2 v2.6 h-2.2 Z M427.9,883.5 h3.4 v2.6 h-3.4 Z M435.3,883.5 h3.4 v2.6 h-3.4 Z M443.3,883.5 h2.2 v2.6 h-2.2 Z M450.1,883.5 h3.4 v2.6 h-3.4 Z M457.5,883.5 h3.4 v2.6 h-3.4 Z M465.5,883.5 h2.2 v2.6 h-2.2 Z M472.3,883.5 h3.4 v2.6 h-3.4 Z M479.7,883.5 h3.4 v2.6 h-3.4 Z M487.7,883.5 h2.2 v2.6 h-2.2 Z M494.5,883.5 h3.4 v2.6 h-3.4 Z M501.9,883.5 h3.4 v2.6 h-3.4 Z " stroke="#000" stroke-width="1.1" fill="none" />
<path d="M214.2,1050.5 V1006.7 Q214.2,1002.5 218.4,1002.5 H482.6 Q486.8,1002.5 486.8,1006.7 V1050.5 Z" stroke="#000" stroke-width="1.5" fill="none" />
<path d="M246.3,1043.4 V1004.4 H454.4 V1043.2" stroke="#000" stroke-width="1.5" fill="none" />
<line x1="246.3" y1="1035.5" x2="454.4" y2="1035.5" stroke="#000" stroke-width="1.5" />
<path d="M214.2,1043.4 H224.6 V1018.8 M236.8,1018.8 V1043.4 H246.3" stroke="#000" stroke-width="1.4" fill="none" />
<path d="M454.4,1043.2 H463.7 V1018.6 M475.5,1018.6 V1043.2 H486.8" stroke="#000" stroke-width="1.4" fill="none" />
<circle cx="230.7" cy="1018.8" r="6.1" stroke="#000" stroke-width="1.5" fill="none"/>
<circle cx="469.6" cy="1018.6" r="5.9" stroke="#000" stroke-width="1.5" fill="none"/>
<path d="M224.6,1024 H236.8 M463.7,1024 H475.5" stroke="#555" stroke-width="1.0" fill="none" />
<path d="M256.6,1007.3 H443.9 Q452.8,1008.2 451.4,1015.5 L442.5,1030.2 Q441.5,1032 439.6,1032 H260.8 Q258.6,1032 257.8,1030.2 L249.3,1015.5 Q247.8,1008.2 256.6,1007.3 Z" stroke="#000" stroke-width="1.3" fill="none" />
<path d="M254,1005.6 Q244.5,1007 247.4,1016 L256.6,1033.8 M446.5,1005.8 Q456,1007.2 453.4,1016 L444,1033.8" stroke="#555" stroke-width="1.0" fill="none" />
<rect x="260.5" y="1015.5" width="179" height="8" stroke="#000" stroke-width="1.3" fill="none" />
<path d="M262.2,1017.6 h2.8 v1.8 h-2.8 Z M262.3,1020.5 h2.6 v1.8 h-2.6 Z M267.44,1017.6 h2.8 v1.8 h-2.8 Z M267.54,1020.5 h2.6 v1.8 h-2.6 Z M272.68,1017.6 h2.8 v1.8 h-2.8 Z M272.78,1020.5 h2.6 v1.8 h-2.6 Z M277.92,1017.6 h2.8 v1.8 h-2.8 Z M278.02,1020.5 h2.6 v1.8 h-2.6 Z M283.16,1017.6 h2.8 v1.8 h-2.8 Z M283.26,1020.5 h2.6 v1.8 h-2.6 Z M288.4,1017.6 h2.8 v1.8 h-2.8 Z M288.5,1020.5 h2.6 v1.8 h-2.6 Z M293.64,1017.6 h2.8 v1.8 h-2.8 Z M293.74,1020.5 h2.6 v1.8 h-2.6 Z M298.88,1017.6 h2.8 v1.8 h-2.8 Z M298.98,1020.5 h2.6 v1.8 h-2.6 Z M304.12,1017.6 h2.8 v1.8 h-2.8 Z M304.22,1020.5 h2.6 v1.8 h-2.6 Z M309.36,1017.6 h2.8 v1.8 h-2.8 Z M309.46,1020.5 h2.6 v1.8 h-2.6 Z M314.6,1017.6 h2.8 v1.8 h-2.8 Z M314.7,1020.5 h2.6 v1.8 h-2.6 Z M319.84,1017.6 h2.8 v1.8 h-2.8 Z M319.94,1020.5 h2.6 v1.8 h-2.6 Z M325.08,1017.6 h2.8 v1.8 h-2.8 Z M325.18,1020.5 h2.6 v1.8 h-2.6 Z M330.32,1017.6 h2.8 v1.8 h-2.8 Z M330.42,1020.5 h2.6 v1.8 h-2.6 Z M335.56,1017.6 h2.8 v1.8 h-2.8 Z M335.66,1020.5 h2.6 v1.8 h-2.6 Z M340.8,1017.6 h2.8 v1.8 h-2.8 Z M340.9,1020.5 h2.6 v1.8 h-2.6 Z M346.04,1017.6 h2.8 v1.8 h-2.8 Z M346.14,1020.5 h2.6 v1.8 h-2.6 Z M351.28,1017.6 h2.8 v1.8 h-2.8 Z M351.38,1020.5 h2.6 v1.8 h-2.6 Z M356.52,1017.6 h2.8 v1.8 h-2.8 Z M356.62,1020.5 h2.6 v1.8 h-2.6 Z M361.76,1017.6 h2.8 v1.8 h-2.8 Z M361.86,1020.5 h2.6 v1.8 h-2.6 Z M367,1017.6 h2.8 v1.8 h-2.8 Z M367.1,1020.5 h2.6 v1.8 h-2.6 Z M372.24,1017.6 h2.8 v1.8 h-2.8 Z M372.34,1020.5 h2.6 v1.8 h-2.6 Z M377.48,1017.6 h2.8 v1.8 h-2.8 Z M377.58,1020.5 h2.6 v1.8 h-2.6 Z M382.72,1017.6 h2.8 v1.8 h-2.8 Z M382.82,1020.5 h2.6 v1.8 h-2.6 Z M387.96,1017.6 h2.8 v1.8 h-2.8 Z M388.06,1020.5 h2.6 v1.8 h-2.6 Z M393.2,1017.6 h2.8 v1.8 h-2.8 Z M393.3,1020.5 h2.6 v1.8 h-2.6 Z M398.44,1017.6 h2.8 v1.8 h-2.8 Z M398.54,1020.5 h2.6 v1.8 h-2.6 Z M403.68,1017.6 h2.8 v1.8 h-2.8 Z M403.78,1020.5 h2.6 v1.8 h-2.6 Z M408.92,1017.6 h2.8 v1.8 h-2.8 Z M409.02,1020.5 h2.6 v1.8 h-2.6 Z M414.16,1017.6 h2.8 v1.8 h-2.8 Z M414.26,1020.5 h2.6 v1.8 h-2.6 Z M419.4,1017.6 h2.8 v1.8 h-2.8 Z M419.5,1020.5 h2.6 v1.8 h-2.6 Z M424.64,1017.6 h2.8 v1.8 h-2.8 Z M424.74,1020.5 h2.6 v1.8 h-2.6 Z M429.88,1017.6 h2.8 v1.8 h-2.8 Z M429.98,1020.5 h2.6 v1.8 h-2.6 Z M435.12,1017.6 h2.8 v1.8 h-2.8 Z M435.22,1020.5 h2.6 v1.8 h-2.6 Z " stroke="#333" stroke-width="0.7" fill="none" />
<line x1="230.5" y1="994.5" x2="230.5" y2="1063.8" stroke="#000" stroke-width="1.3" />
<line x1="469.5" y1="994.8" x2="469.5" y2="1063.4" stroke="#000" stroke-width="1.3" />
<path d="M350.4,993.9 V1036.5 M350.4,1040 V1071.4" stroke="#000" stroke-width="1.3" fill="none" />
<line x1="210" y1="1019.5" x2="491.4" y2="1019.5" stroke="#000" stroke-width="1.2" />
<path d="M266,1050.5 Q270,1060 276,1062.6 H424.5 L433.3,1050.5 M298.2,1050.5 L300.7,1062.6 M402.9,1050.5 L399,1062.6" stroke="#000" stroke-width="1.1" fill="none" />
<rect x="780.5" y="830.5" width="266" height="300" stroke="#000" stroke-width="1.25" fill="none" />
<line x1="847.5" y1="830.6" x2="847.5" y2="1130.2" stroke="#000" stroke-width="1.25" />
<line x1="979.5" y1="830.6" x2="979.5" y2="1130.2" stroke="#000" stroke-width="1.25" />
<line x1="780.6" y1="864.5" x2="1046.5" y2="864.5" stroke="#000" stroke-width="1.25" />
<line x1="780.6" y1="898.5" x2="1046.5" y2="898.5" stroke="#000" stroke-width="1.25" />
<line x1="780.6" y1="932.5" x2="1046.5" y2="932.5" stroke="#000" stroke-width="1.25" />
<line x1="780.6" y1="966.5" x2="1046.5" y2="966.5" stroke="#000" stroke-width="1.25" />
<line x1="780.6" y1="1000.5" x2="1046.5" y2="1000.5" stroke="#000" stroke-width="1.25" />
<line x1="780.6" y1="1031.5" x2="1046.5" y2="1031.5" stroke="#000" stroke-width="1.25" />
<line x1="780.6" y1="1065.5" x2="1046.5" y2="1065.5" stroke="#000" stroke-width="1.25" />
<line x1="780.6" y1="1099.5" x2="1046.5" y2="1099.5" stroke="#000" stroke-width="1.25" />
<line x1="847.4" y1="881.5" x2="979.4" y2="881.5" stroke="#000" stroke-width="1.25" />
<line x1="847.4" y1="915.5" x2="979.4" y2="915.5" stroke="#000" stroke-width="1.25" />
<line x1="847.4" y1="950.5" x2="979.4" y2="950.5" stroke="#000" stroke-width="1.25" />
<line x1="847.4" y1="984.5" x2="979.4" y2="984.5" stroke="#000" stroke-width="1.25" />
<line x1="847.4" y1="1015.5" x2="979.4" y2="1015.5" stroke="#000" stroke-width="1.25" />
<line x1="847.4" y1="1049.5" x2="979.4" y2="1049.5" stroke="#000" stroke-width="1.25" />
<line x1="847.4" y1="1083.5" x2="979.4" y2="1083.5" stroke="#000" stroke-width="1.25" />
<line x1="847.4" y1="1117.5" x2="979.4" y2="1117.5" stroke="#000" stroke-width="1.25" />
<line x1="1046.5" y1="1011.5" x2="1774.5" y2="1011.5" stroke="#888" stroke-width="1.2" />
<line x1="1046.5" y1="1011.9" x2="1046.5" y2="1251" stroke="#000" stroke-width="1.25" />
<line x1="1121.5" y1="1011.9" x2="1121.5" y2="1154.5" stroke="#000" stroke-width="1.25" />
<line x1="1219.5" y1="1011.9" x2="1219.5" y2="1251" stroke="#000" stroke-width="1.25" />
<line x1="1701.5" y1="1011.9" x2="1701.5" y2="1130.2" stroke="#000" stroke-width="1.25" />
<line x1="1046.5" y1="1069.5" x2="1774.5" y2="1069.5" stroke="#000" stroke-width="1.25" />
<line x1="1046.5" y1="1099.5" x2="1774.5" y2="1099.5" stroke="#777" stroke-width="1.2" />
<line x1="48.5" y1="1130.5" x2="1774.5" y2="1130.5" stroke="#000" stroke-width="1.25" />
<line x1="48.5" y1="1154.5" x2="502" y2="1154.5" stroke="#000" stroke-width="1.25" />
<line x1="48.5" y1="1178.5" x2="502" y2="1178.5" stroke="#000" stroke-width="1.25" />
<line x1="48.5" y1="1202.5" x2="502" y2="1202.5" stroke="#666" stroke-width="1.2" />
<line x1="48.5" y1="1226.5" x2="502" y2="1226.5" stroke="#666" stroke-width="1.2" />
<line x1="91.5" y1="1130.4" x2="91.5" y2="1251" stroke="#000" stroke-width="1.25" />
<line x1="387.5" y1="1130.4" x2="387.5" y2="1251" stroke="#000" stroke-width="1.25" />
<line x1="502.5" y1="1130.4" x2="502.5" y2="1251" stroke="#000" stroke-width="1.25" />
<line x1="658.5" y1="1130.4" x2="658.5" y2="1251" stroke="#000" stroke-width="1.25" />
<line x1="658.5" y1="1178.5" x2="923.3" y2="1178.5" stroke="#000" stroke-width="1.25" />
<line x1="788.5" y1="1130.4" x2="788.5" y2="1178.6" stroke="#000" stroke-width="1.4" />
<line x1="853.5" y1="1130.4" x2="853.5" y2="1178.6" stroke="#000" stroke-width="1.4" />
<line x1="788" y1="1154.5" x2="1774.5" y2="1154.5" stroke="#000" stroke-width="1.25" />
<line x1="923.5" y1="1130.4" x2="923.5" y2="1202.1" stroke="#000" stroke-width="1.25" />
<line x1="923.3" y1="1202.5" x2="1046.5" y2="1202.5" stroke="#000" stroke-width="1.25" />
<line x1="1046.5" y1="1178.5" x2="1774.5" y2="1178.5" stroke="#000" stroke-width="1.25" />
<line x1="1133.5" y1="1154.3" x2="1133.5" y2="1251" stroke="#000" stroke-width="1.25" />
<line x1="1305.5" y1="1154.3" x2="1305.5" y2="1251" stroke="#000" stroke-width="1.25" />
<line x1="1392.5" y1="1154.3" x2="1392.5" y2="1251" stroke="#000" stroke-width="1.25" />
<line x1="1497.5" y1="1154.3" x2="1497.5" y2="1251" stroke="#000" stroke-width="1.25" />
<line x1="1392.2" y1="1226.5" x2="1774.5" y2="1226.5" stroke="#000" stroke-width="1.25" />
<line x1="1669.5" y1="1154.3" x2="1669.5" y2="1178.5" stroke="#666" stroke-width="1.2" />
<line x1="1719.5" y1="1154.3" x2="1719.5" y2="1178.5" stroke="#000" stroke-width="1.25" />
<line x1="1669.5" y1="1226.7" x2="1669.5" y2="1251" stroke="#000" stroke-width="1.25" />
<line x1="1719.5" y1="1226.7" x2="1719.5" y2="1251" stroke="#000" stroke-width="1.25" />
<path d="M164.7,1205.8 V1223.6 M172.3,1206.1 V1223.4" stroke="#111" stroke-width="1.6" fill="none" stroke-linecap="round"/>
<path d="M164.7,1206.6 H172.3 M164.7,1221.9 H172.3" stroke="#111" stroke-width="1.1" fill="none" stroke-linecap="round"/>
<path d="M167.6,1208.6 L166.1,1211.6 M167.2,1209.4 H170.3 L166.2,1215.2 M167.8,1212.3 L171,1214.8 M167.4,1216.8 L169.6,1218 M166.8,1219.3 L170.1,1220.6" stroke="#111" stroke-width="1.0" fill="none" stroke-linecap="round"/>
<path d="M176.6,1206.7 H188.1 M182.1,1206.7 L181.6,1210.3 M177.8,1210.5 H186.9 M177.8,1221.8 H186.9 M180.6,1214.6 H184.1 M180.6,1218.1 H184.1" stroke="#111" stroke-width="1.1" fill="none" stroke-linecap="round"/>
<path d="M177.8,1210.5 V1223 M186.9,1210.5 V1223 M180.6,1210.5 V1221.8 M184.1,1210.5 V1221.8" stroke="#111" stroke-width="1.5" fill="none" stroke-linecap="round"/>
<path d="M190.5,1207.2 L191.6,1209.8 M197.1,1206.6 L198.6,1208.8 M189.2,1211.2 H200.5" stroke="#111" stroke-width="1.1" fill="none" stroke-linecap="round"/>
<path d="M194.6,1206 C194.3,1213 192.5,1219 189.1,1223.2" stroke="#111" stroke-width="1.5" fill="none" stroke-linecap="round"/>
<path d="M192.6,1215.2 H198.4 C197,1218.6 195,1221.3 192.2,1223.3 M194.4,1217.6 C196.2,1220.5 198.2,1222.3 200.6,1223.4" stroke="#111" stroke-width="1.2" fill="none" stroke-linecap="round"/>
<path d="M205.6,1205.6 L202.6,1209.8 M206.1,1210.6 L202.2,1216.2" stroke="#111" stroke-width="1.2" fill="none" stroke-linecap="round"/>
<path d="M204.6,1213 V1223.8 M211.6,1212.2 V1222.6 Q211.6,1223.6 210.2,1222.9" stroke="#111" stroke-width="1.5" fill="none" stroke-linecap="round"/>
<path d="M207.6,1207.1 H213.4 M206.6,1212.1 H213.9" stroke="#111" stroke-width="1.1" fill="none" stroke-linecap="round"/>
<rect x="518.1" y="1159.3" width="12.9" height="12.2" stroke="#000" stroke-width="1" fill="#000" />
<line x1="519" y1="1162" x2="524" y2="1158" stroke="#555" stroke-width="0.8" />
<rect x="611.5" y="1159.5" width="12" height="12" stroke="#000" stroke-width="1.4" fill="none" />
<path d="M611.3,1159.3 L623.7,1171.5 M623.7,1159.3 L611.3,1171.5" stroke="#000" stroke-width="1.0" fill="none" />
<rect x="537.3" y="1165.3" width="1.8" height="1.8" stroke="#000" stroke-width="0" fill="#000" />
<rect x="537.3" y="1172.3" width="1.8" height="1.8" stroke="#000" stroke-width="0" fill="#000" />
<rect x="631.9" y="1165.3" width="1.8" height="1.8" stroke="#000" stroke-width="0" fill="#000" />
<rect x="631.9" y="1172.3" width="1.8" height="1.8" stroke="#000" stroke-width="0" fill="#000" />
<rect x="547.7" y="1213.3" width="1.8" height="1.8" stroke="#000" stroke-width="0" fill="#000" />
<rect x="547.7" y="1220.3" width="1.8" height="1.8" stroke="#000" stroke-width="0" fill="#000" />
<rect x="640.6" y="1213.3" width="1.8" height="1.8" stroke="#000" stroke-width="0" fill="#000" />
<rect x="640.6" y="1220.3" width="1.8" height="1.8" stroke="#000" stroke-width="0" fill="#000" />
<path d="M514,1205.5 H545.3 M514,1205.5 L523.4,1220.7 L533,1205.5" stroke="#000" stroke-width="1.2" fill="none" />
<path d="M519.5,1208 H527 L519.5,1215 H527" stroke="#000" stroke-width="1.0" fill="none" />
<path d="M610.5,1205.5 H640.2 M610.5,1205.5 L619.1,1220.7 L627.8,1205.5" stroke="#000" stroke-width="1.2" fill="none" />
<path d="M622,1209 Q619,1207.5 617.3,1210.5 Q616.5,1213.5 619.5,1214.5 Q621,1214.6 622,1213.5" stroke="#000" stroke-width="1.0" fill="none" />
<circle cx="697.6" cy="1153.4" r="12.4" stroke="#000" stroke-width="1.1" fill="none"/>
<circle cx="697.6" cy="1153.4" r="6.1" stroke="#000" stroke-width="1.1" fill="none"/>
<line x1="679" y1="1153.5" x2="717" y2="1153.5" stroke="#000" stroke-width="1.1" />
<line x1="697.5" y1="1135.7" x2="697.5" y2="1172" stroke="#000" stroke-width="1.1" />
<path d="M728,1147.3 L765.6,1141.2 V1165.4 L728,1159.7 Z" stroke="#000" stroke-width="1.1" fill="none" />
<line x1="722.7" y1="1153.5" x2="772.2" y2="1153.5" stroke="#000" stroke-width="1.1" />
<rect x="1596.8" y="1172" width="2.4" height="1.6" stroke="#bbb" stroke-width="0" fill="#bbb" />
<rect x="1603.3" y="1172" width="2.4" height="1.6" stroke="#bbb" stroke-width="0" fill="#bbb" />
<rect x="1609.8" y="1172" width="2.4" height="1.6" stroke="#bbb" stroke-width="0" fill="#bbb" />
<rect x="1616.3" y="1172" width="2.4" height="1.6" stroke="#bbb" stroke-width="0" fill="#bbb" />
<rect x="1528" y="1177" width="15.5" height="3.5" fill="#fff"/>
<rect x="1524.5" y="1177" width="3.5" height="3.5" fill="#fff" fill-opacity="0.6"/>
<rect x="1543.5" y="1177" width="3.5" height="3.5" fill="#fff" fill-opacity="0.6"/>
<rect x="1525" y="1153" width="10" height="3" fill="#fff" fill-opacity="0.55"/>
<line x1="1492" y1="1011.5" x2="1597" y2="1011.5" stroke="#111" stroke-width="1.2"/>
</svg>
</body></html>
